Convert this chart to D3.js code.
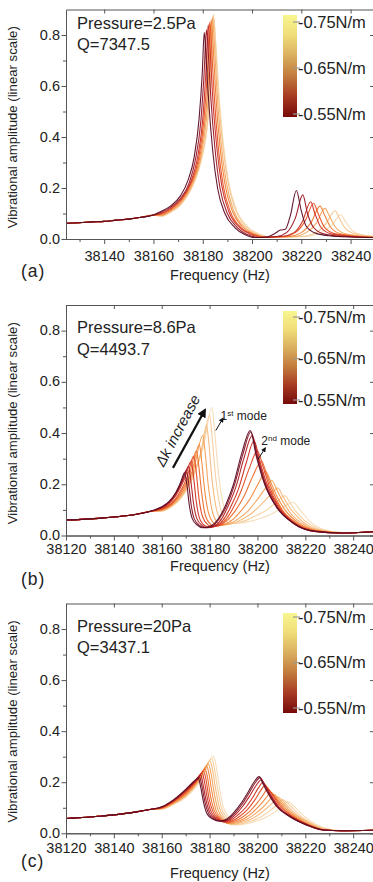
<!DOCTYPE html>
<html><head><meta charset="utf-8">
<script src="https://cdn.jsdelivr.net/npm/d3@7"></script>
<style>
body{margin:0;background:#fff}
svg{display:block}
text{font-family:"Liberation Sans",Arial,sans-serif;fill:#222}
</style>
</head><body>
<svg id="chart" width="373" height="882"></svg>
<script>
// ---------------- DATA ----------------
const pressureLabels = ["Pressure=2.5Pa","Pressure=8.6Pa","Pressure=20Pa"];
const qLabels = ["Q=7347.5","Q=4493.7","Q=3437.1"];
const panelLetters = ["(a)","(b)","(c)"];
const xTicksA = [38140,38160,38180,38200,38220,38240];
const xTicksBC = [38120,38140,38160,38180,38200,38220,38240];
const yTicks = [0,0.2,0.4,0.6,0.8];
const yMinorTicks = [0.1,0.3,0.5,0.7];
const cbarValues = [-0.75,-0.65,-0.55];
const cbarLabels = ["-0.75N/m","-0.65N/m","-0.55N/m"];

// shared low-frequency baselines [frequency Hz, amplitude]
const baseA = [[38124.5,0.062],[38130,0.064],[38135,0.067],[38140,0.069],[38145,0.074],[38150,0.078],[38155,0.085],[38160,0.094]];
const baseB = [[38120,0.061],[38125,0.062],[38130,0.065],[38135,0.068],[38140,0.072],[38145,0.077],[38150,0.084],[38155,0.094]];
const baseC = [[38120,0.058],[38125,0.061],[38130,0.064],[38135,0.068],[38140,0.072],[38145,0.078],[38150,0.085],[38155,0.093]];

// panel (a): curves from dark (-0.55N/m) to light (-0.75N/m)
const curvesA = [
 [[38163,0.108],[38167,0.13],[38171,0.17],[38174,0.23],[38176.5,0.32],[38178.5,0.47],[38179.8,0.65],[38180.6,0.81],[38181.4,0.7],[38182.4,0.54],[38184,0.35],[38186,0.2],[38189,0.1],[38193,0.045],[38197,0.018],[38201,0.006],[38206,0.008],[38209,0.02],[38211.5,0.035],[38213.5,0.038],[38215.5,0.09],[38218,0.19],[38220,0.11],[38222,0.05],[38226,0.022],[38232,0.012],[38240,0.008],[38249.5,0.006]],
 [[38163,0.104],[38167,0.125],[38171,0.16],[38174.5,0.22],[38177,0.31],[38179.2,0.46],[38180.5,0.64],[38181.5,0.82],[38182.3,0.72],[38183.3,0.55],[38185,0.35],[38187,0.2],[38190,0.1],[38194,0.045],[38198,0.018],[38203,0.006],[38210,0.01],[38214,0.025],[38217.5,0.08],[38220.6,0.173],[38222.5,0.1],[38225,0.045],[38229,0.02],[38236,0.01],[38249.5,0.006]],
 [[38163,0.1],[38167,0.12],[38171,0.155],[38175,0.22],[38177.7,0.31],[38180,0.47],[38181.3,0.66],[38182.2,0.84],[38183,0.74],[38184,0.56],[38185.7,0.36],[38187.7,0.21],[38190.7,0.105],[38195,0.045],[38199,0.02],[38204,0.007],[38212,0.01],[38217,0.025],[38220.5,0.07],[38223.8,0.146],[38225.5,0.1],[38228,0.045],[38232,0.02],[38240,0.01],[38249.5,0.006]],
 [[38163,0.098],[38167,0.117],[38171,0.15],[38175.3,0.22],[38178.2,0.31],[38180.5,0.47],[38181.9,0.66],[38182.8,0.85],[38183.6,0.75],[38184.6,0.57],[38186.3,0.36],[38188.3,0.21],[38191.3,0.105],[38195.5,0.045],[38200,0.02],[38205,0.007],[38213,0.01],[38218,0.028],[38221.5,0.07],[38225,0.14],[38226.8,0.1],[38229.5,0.045],[38234,0.02],[38242,0.01],[38249.5,0.006]],
 [[38163,0.095],[38167,0.113],[38171,0.145],[38175.6,0.22],[38178.6,0.31],[38181,0.47],[38182.5,0.66],[38183.4,0.86],[38184.2,0.76],[38185.2,0.58],[38186.9,0.37],[38189,0.215],[38192,0.11],[38196,0.048],[38200.5,0.02],[38206,0.007],[38215,0.01],[38220,0.025],[38224,0.065],[38227.6,0.129],[38229.4,0.095],[38232,0.045],[38236,0.02],[38244,0.01],[38249.5,0.007]],
 [[38163,0.092],[38167,0.11],[38171,0.14],[38176,0.22],[38179,0.31],[38181.5,0.47],[38183,0.66],[38183.9,0.87],[38184.7,0.77],[38185.7,0.59],[38187.4,0.38],[38189.6,0.22],[38192.6,0.11],[38196.6,0.05],[38201,0.02],[38207,0.007],[38217,0.01],[38222,0.025],[38226,0.06],[38229.6,0.12],[38231.4,0.09],[38234,0.045],[38238,0.02],[38246,0.01],[38249.5,0.008]],
 [[38163,0.09],[38167,0.107],[38171,0.135],[38176.3,0.22],[38179.3,0.31],[38182,0.47],[38183.4,0.66],[38184.3,0.88],[38185.1,0.78],[38186.1,0.6],[38187.9,0.39],[38190.2,0.225],[38193.3,0.115],[38197.5,0.05],[38202,0.02],[38208,0.007],[38220,0.01],[38226,0.025],[38230,0.06],[38233.7,0.111],[38235.5,0.08],[38238,0.04],[38242,0.02],[38249.5,0.01]],
 [[38163,0.088],[38167,0.105],[38171,0.133],[38176.5,0.22],[38179.5,0.31],[38182.2,0.47],[38183.6,0.66],[38184.5,0.865],[38185.3,0.77],[38186.4,0.6],[38188.2,0.39],[38190.5,0.225],[38193.7,0.115],[38198,0.05],[38203,0.02],[38209,0.007],[38222,0.01],[38228,0.025],[38232.5,0.055],[38236,0.095],[38237.8,0.07],[38240.5,0.035],[38244,0.018],[38249.5,0.01]]
];

// panel (b)
const curvesB = [
 [[38160,0.112],[38163,0.132],[38166,0.17],[38168,0.21],[38169.5,0.245],[38170.5,0.2],[38171.5,0.12],[38172.8,0.065],[38175,0.04],[38177,0.03],[38180,0.035],[38184,0.07],[38187,0.125],[38190,0.2],[38193.4,0.32],[38197,0.41],[38199.5,0.31],[38203,0.2],[38208,0.11],[38215,0.048],[38224,0.016],[38235,0.01],[38248.7,0.015]],
 [[38160,0.11],[38163,0.13],[38166,0.167],[38168.5,0.215],[38170.3,0.255],[38171.3,0.2],[38172.3,0.12],[38173.6,0.065],[38176,0.038],[38178,0.03],[38181,0.035],[38184,0.065],[38187.3,0.12],[38190.3,0.195],[38193.7,0.31],[38197.3,0.405],[38199.8,0.31],[38203.2,0.2],[38208.2,0.11],[38215,0.048],[38224,0.016],[38235,0.01],[38248.7,0.015]],
 [[38160,0.108],[38163,0.127],[38166,0.162],[38169,0.22],[38171.2,0.27],[38172.2,0.21],[38173.3,0.125],[38174.6,0.068],[38177,0.038],[38179,0.03],[38182,0.036],[38185,0.065],[38188,0.12],[38191,0.19],[38194.3,0.3],[38197.8,0.39],[38200.3,0.3],[38203.5,0.2],[38208.4,0.11],[38215,0.048],[38224,0.016],[38235,0.01],[38248.7,0.015]],
 [[38160,0.106],[38163,0.124],[38166,0.157],[38169.5,0.22],[38172.3,0.29],[38173.3,0.23],[38174.4,0.135],[38175.7,0.07],[38178,0.038],[38180,0.032],[38183,0.038],[38186,0.065],[38189,0.115],[38192,0.18],[38195.2,0.28],[38198.6,0.37],[38201,0.29],[38204,0.2],[38208.8,0.11],[38215,0.05],[38224,0.017],[38235,0.01],[38248.7,0.015]],
 [[38160,0.104],[38164,0.125],[38167,0.16],[38170.5,0.225],[38173.4,0.31],[38174.4,0.25],[38175.5,0.15],[38177,0.075],[38179.5,0.04],[38181,0.034],[38184,0.04],[38187,0.065],[38190,0.11],[38193,0.17],[38196.5,0.26],[38200,0.33],[38202.3,0.27],[38205,0.19],[38209.2,0.11],[38215.5,0.05],[38224,0.017],[38235,0.01],[38248.7,0.015]],
 [[38160,0.102],[38164,0.122],[38167.5,0.16],[38171.5,0.235],[38174.5,0.33],[38175.5,0.27],[38176.7,0.165],[38178.2,0.08],[38180.5,0.043],[38182.2,0.036],[38185,0.042],[38188,0.065],[38191,0.1],[38194.5,0.155],[38198,0.23],[38201.7,0.29],[38203.8,0.24],[38206.3,0.175],[38210,0.105],[38216,0.05],[38224.5,0.018],[38235,0.01],[38248.7,0.015]],
 [[38160,0.1],[38164,0.12],[38168,0.16],[38172.5,0.245],[38175.7,0.355],[38176.7,0.29],[38177.9,0.18],[38179.5,0.09],[38181.8,0.047],[38183.5,0.038],[38186.5,0.044],[38190,0.065],[38193.5,0.1],[38197,0.145],[38200.5,0.205],[38203.5,0.25],[38205.5,0.21],[38208,0.155],[38211.5,0.1],[38217,0.05],[38225,0.018],[38235,0.01],[38248.7,0.015]],
 [[38160,0.098],[38164,0.117],[38168,0.155],[38173,0.245],[38177.2,0.39],[38178.2,0.32],[38179.4,0.2],[38181,0.1],[38183.3,0.05],[38185,0.04],[38188,0.045],[38192,0.065],[38196,0.095],[38199.5,0.135],[38203,0.18],[38206,0.215],[38208,0.18],[38210.5,0.135],[38214,0.085],[38219,0.045],[38226,0.018],[38235,0.01],[38248.7,0.015]],
 [[38160,0.097],[38164,0.115],[38168,0.15],[38173.5,0.245],[38176.5,0.33],[38178.7,0.43],[38179.7,0.36],[38181,0.22],[38182.7,0.11],[38185,0.055],[38186.6,0.043],[38190,0.048],[38194,0.065],[38198,0.09],[38202,0.125],[38205.5,0.16],[38208.5,0.185],[38210.5,0.155],[38213,0.115],[38216.5,0.075],[38221,0.04],[38228,0.017],[38237,0.01],[38248.7,0.015]],
 [[38160,0.096],[38164,0.113],[38168,0.147],[38173.5,0.24],[38177,0.34],[38180,0.47],[38181,0.39],[38182.4,0.24],[38184.2,0.12],[38186.6,0.06],[38188.3,0.046],[38192,0.05],[38196,0.062],[38200,0.08],[38204,0.1],[38208,0.13],[38211.5,0.155],[38213.5,0.13],[38216,0.095],[38219.5,0.06],[38224,0.032],[38231,0.015],[38240,0.01],[38248.7,0.015]],
 [[38160,0.095],[38164,0.111],[38168,0.145],[38173.5,0.235],[38177.5,0.35],[38181,0.5],[38182,0.42],[38183.5,0.26],[38185.5,0.13],[38188,0.065],[38190,0.048],[38194,0.05],[38198,0.058],[38203,0.072],[38208,0.095],[38212,0.117],[38215,0.13],[38217,0.11],[38219.5,0.08],[38222.5,0.05],[38227,0.025],[38234,0.012],[38248.7,0.012]]
];

// panel (c)
const curvesC = [
 [[38160,0.104],[38165,0.132],[38170,0.172],[38173,0.2],[38175.3,0.215],[38176.3,0.18],[38177.5,0.12],[38179,0.075],[38181.5,0.055],[38184,0.048],[38187,0.055],[38190,0.08],[38193,0.115],[38196,0.16],[38198.5,0.2],[38200.7,0.222],[38202.5,0.19],[38204.5,0.155],[38208,0.105],[38213.5,0.065],[38220.5,0.033],[38227.5,0.013],[38235,0.01],[38248.7,0.012]],
 [[38160,0.103],[38165,0.13],[38170,0.17],[38173.3,0.2],[38175.8,0.22],[38176.8,0.185],[38178,0.125],[38179.6,0.078],[38182,0.056],[38184.7,0.047],[38187.5,0.054],[38190.5,0.078],[38193.5,0.113],[38196.5,0.158],[38199,0.197],[38201.1,0.218],[38203,0.188],[38205,0.153],[38208.3,0.105],[38213.8,0.065],[38220.5,0.033],[38227.5,0.013],[38235,0.01],[38248.7,0.012]],
 [[38160,0.102],[38165,0.128],[38170,0.167],[38173.6,0.2],[38176.3,0.228],[38177.3,0.19],[38178.5,0.13],[38180.2,0.08],[38182.6,0.057],[38185.3,0.046],[38188,0.052],[38191,0.075],[38194,0.108],[38197,0.15],[38199.5,0.188],[38201.6,0.21],[38203.4,0.183],[38205.4,0.15],[38208.6,0.104],[38214,0.065],[38220.5,0.033],[38227.5,0.013],[38235,0.01],[38248.7,0.012]],
 [[38160,0.101],[38165,0.127],[38170,0.164],[38174,0.202],[38176.9,0.236],[38177.9,0.2],[38179.1,0.135],[38180.8,0.082],[38183.2,0.058],[38185.9,0.045],[38188.6,0.05],[38191.6,0.07],[38195,0.1],[38198,0.14],[38200.4,0.178],[38202.3,0.2],[38204,0.176],[38206,0.145],[38209,0.103],[38214.3,0.065],[38221,0.033],[38227.5,0.013],[38235,0.01],[38248.7,0.012]],
 [[38160,0.1],[38165,0.125],[38170,0.16],[38174.5,0.205],[38177.5,0.244],[38178.5,0.21],[38179.7,0.14],[38181.4,0.085],[38183.8,0.058],[38186.5,0.043],[38189.3,0.048],[38192.5,0.066],[38196,0.095],[38199,0.132],[38201.4,0.168],[38203.2,0.188],[38205,0.168],[38207,0.14],[38209.8,0.102],[38214.7,0.065],[38221,0.033],[38228,0.013],[38235,0.01],[38248.7,0.012]],
 [[38160,0.099],[38165,0.123],[38170,0.157],[38175,0.208],[38178.1,0.253],[38179.1,0.22],[38180.3,0.15],[38182,0.088],[38184.4,0.058],[38187,0.041],[38190,0.046],[38193.5,0.062],[38197,0.088],[38200,0.12],[38202.5,0.152],[38204.3,0.174],[38206,0.156],[38208,0.132],[38210.7,0.1],[38215.3,0.064],[38221.5,0.033],[38228,0.013],[38235,0.01],[38248.7,0.012]],
 [[38160,0.098],[38165,0.121],[38170,0.153],[38175.3,0.208],[38178.8,0.262],[38179.8,0.23],[38181,0.16],[38182.7,0.09],[38185,0.058],[38187.6,0.039],[38191,0.044],[38194.5,0.058],[38198,0.082],[38201,0.11],[38203.7,0.14],[38205.6,0.162],[38207.3,0.146],[38209.3,0.124],[38212,0.095],[38216.3,0.062],[38222,0.032],[38228.5,0.013],[38235,0.01],[38248.7,0.012]],
 [[38160,0.097],[38165,0.119],[38170,0.15],[38175.6,0.21],[38179.5,0.272],[38180.5,0.24],[38181.7,0.17],[38183.4,0.095],[38185.7,0.058],[38188.2,0.037],[38191.7,0.042],[38195.5,0.055],[38199,0.076],[38202.3,0.102],[38205,0.13],[38207,0.152],[38208.7,0.138],[38210.7,0.118],[38213.3,0.09],[38217.5,0.06],[38223,0.031],[38229,0.013],[38235,0.01],[38248.7,0.012]],
 [[38160,0.096],[38165,0.117],[38170,0.147],[38176,0.212],[38180.2,0.283],[38181.2,0.25],[38182.4,0.18],[38184.1,0.1],[38186.4,0.06],[38189,0.035],[38192.5,0.04],[38196.5,0.052],[38200,0.07],[38203.5,0.095],[38206.4,0.12],[38208.6,0.142],[38210.3,0.13],[38212.3,0.11],[38214.8,0.085],[38218.7,0.057],[38224,0.03],[38230,0.013],[38236,0.01],[38248.7,0.012]],
 [[38160,0.095],[38165,0.115],[38170,0.144],[38176.5,0.215],[38180.9,0.293],[38181.9,0.26],[38183.1,0.19],[38184.8,0.105],[38187.2,0.062],[38190,0.034],[38193.5,0.038],[38197.5,0.048],[38201.5,0.064],[38205,0.087],[38208,0.11],[38210.5,0.132],[38212.2,0.122],[38214.2,0.103],[38216.6,0.08],[38220,0.054],[38225,0.029],[38231,0.013],[38237,0.01],[38248.7,0.012]],
 [[38160,0.094],[38165,0.113],[38170,0.141],[38177,0.218],[38181.6,0.303],[38182.6,0.27],[38183.8,0.2],[38185.5,0.11],[38188,0.064],[38191,0.033],[38194.5,0.036],[38198.5,0.045],[38203,0.06],[38207,0.082],[38210,0.104],[38212.5,0.124],[38214.2,0.115],[38216.2,0.097],[38218.5,0.076],[38221.5,0.052],[38226,0.028],[38232,0.013],[38238,0.01],[38248.7,0.012]]
];

// annotations for panel (b): [freq, amplitude]
const bigArrow = [[38164.7,0.264],[38178.1,0.491]];
const dkLabelPos = [38166.6,0.41];
const mode1Arrow = [[38182.6,0.41],[38185.6,0.458]];
const mode1LabelPos = [38184.6,0.452];
const mode2Arrow = [[38200.2,0.297],[38203.3,0.342]];
const mode2LabelPos = [38201.6,0.354];

// ---------------- STYLE / LAYOUT ----------------
const curveStops = ["#5c0d24","#9c1526","#cf2a22","#e9501f","#f08232","#f3a65e","#f5c68e","#f6dbb6"];
const curveColor = d3.interpolateRgbBasis(curveStops);
const cbarStops = ["#760a0a","#a63a22","#c27a3c","#d9ae5e","#f0dc78","#f8f690"];
const axisColor = "#555";
const FONT = '"Liberation Sans", Arial, sans-serif';

const panels = [
 {curves:curvesA, base:baseA, xd:[38124.5,38249.5], xt:xTicksA, top:9.5, bot:239, tickPad:6.5, titleY:280, letterY:277, pY:29, qY:50, cb:[15,117], cbl:[22,114]},
 {curves:curvesB, base:baseB, xd:[38120,38248.7], xt:xTicksBC, top:305, bot:535.5, tickPad:3, titleY:571, letterY:585, pY:333, qY:355, cb:[311,404], cbl:[317,400]},
 {curves:curvesC, base:baseC, xd:[38120,38248.7], xt:xTicksBC, top:603.5, bot:833.3, tickPad:4, titleY:878, letterY:867, pY:631.5, qY:653, cb:[613,713], cbl:[617,708]}
];

const svg = d3.select("#chart");
const defs = svg.append("defs");
const grad = defs.append("linearGradient").attr("id","cbgrad").attr("x1",0).attr("y1",1).attr("x2",0).attr("y2",0);
cbarStops.forEach((c,i)=>grad.append("stop").attr("offset",i/(cbarStops.length-1)).attr("stop-color",c));
defs.append("marker").attr("id","ahBig").attr("viewBox","0 0 10 10").attr("refX",8).attr("refY",5)
  .attr("markerWidth",4.2).attr("markerHeight",4.2).attr("orient","auto")
  .append("path").attr("d","M0,0L10,5L0,10z").attr("fill","#111");
defs.append("marker").attr("id","ahSmall").attr("viewBox","0 0 10 10").attr("refX",8).attr("refY",5)
  .attr("markerWidth",5).attr("markerHeight",5).attr("orient","auto")
  .append("path").attr("d","M0,0L10,5L0,10z").attr("fill","#111");

const X0 = 66, X1 = 374;

panels.forEach((p, pi) => {
  const g = svg.append("g");
  const x = d3.scaleLinear().domain(p.xd).range([X0, X1]);
  const y = d3.scaleLinear().domain([0, 0.9]).range([p.bot, p.top]);
  const cid = "clip" + pi;
  defs.append("clipPath").attr("id", cid).append("rect")
    .attr("x", X0).attr("y", p.top).attr("width", X1 - X0).attr("height", p.bot - p.top);

  const line = d3.line().x(d => x(d[0])).y(d => y(d[1])).curve(d3.curveMonotoneX);
  const n = p.curves.length;
  const cg = g.append("g").attr("clip-path", `url(#${cid})`);
  for (let i = n - 1; i >= 0; i--) {
    cg.append("path").attr("d", line(p.base.concat(p.curves[i])))
      .attr("fill", "none").attr("stroke", curveColor(i / (n - 1)))
      .attr("stroke-width", 1.1).attr("stroke-linejoin", "round").attr("opacity", 0.95);
  }

  const xMinor = d3.range(Math.ceil(p.xd[0] / 10) * 10, p.xd[1], 10).filter(v => !p.xt.includes(v));
  const styleAxis = sel => {
    sel.selectAll("path,line").attr("stroke", axisColor).attr("stroke-width", 1);
    sel.selectAll("text").attr("font-family", FONT).attr("fill", "#222");
  };
  g.append("g").attr("transform", `translate(0,${p.bot})`)
    .call(d3.axisBottom(x).tickValues(xMinor).tickSize(3).tickSizeOuter(0).tickFormat(""))
    .call(styleAxis);
  g.append("g").attr("transform", `translate(0,${p.bot})`)
    .call(d3.axisBottom(x).tickValues(p.xt).tickSize(5).tickSizeOuter(0).tickPadding(p.tickPad).tickFormat(d3.format("d")))
    .call(styleAxis).selectAll("text").attr("font-size", 14.5);
  g.append("g").attr("transform", `translate(0,${p.top})`)
    .call(d3.axisTop(x).tickValues(p.xt).tickSize(-4).tickSizeOuter(0).tickFormat(""))
    .call(styleAxis);
  g.append("g").attr("transform", `translate(${X0},0)`)
    .call(d3.axisLeft(y).tickValues(yMinorTicks).tickSize(3).tickSizeOuter(0).tickFormat(""))
    .call(styleAxis);
  g.append("g").attr("transform", `translate(${X0},0)`)
    .call(d3.axisLeft(y).tickValues(yTicks).tickSize(4.5).tickSizeOuter(0).tickPadding(1.5).tickFormat(d3.format(".1f")))
    .call(styleAxis).selectAll("text").attr("font-size", 14.5).attr("dy", "0.28em");
  g.append("g").attr("transform", `translate(${X1 + 1},0)`)
    .call(d3.axisRight(y).tickValues(yTicks).tickSize(-5).tickSizeOuter(0).tickFormat(""))
    .call(styleAxis);

  g.append("text").attr("x", 220).attr("y", p.titleY).attr("text-anchor", "middle")
    .attr("font-size", 14.5).text("Frequency (Hz)");
  g.append("text").attr("transform", `translate(17,${(p.top + p.bot) / 2 + 3}) rotate(-90)`)
    .attr("text-anchor", "middle").attr("font-size", 13.2).text("Vibrational amplitude (linear scale)");
  g.append("text").attr("x", 21).attr("y", p.letterY).attr("font-size", 17.5)
    .attr("letter-spacing", 1).text(panelLetters[pi]);
  g.append("text").attr("x", 77).attr("y", p.pY).attr("font-size", 16.5).text(pressureLabels[pi]);
  g.append("text").attr("x", 77).attr("y", p.qY).attr("font-size", 16.5).text(qLabels[pi]);

  const cbX = 283, cbW = 14;
  g.append("rect").attr("x", cbX).attr("y", p.cb[0]).attr("width", cbW).attr("height", p.cb[1] - p.cb[0])
    .attr("fill", "url(#cbgrad)");
  const cy = d3.scaleLinear().domain([-0.75, -0.55]).range(p.cbl);
  cbarValues.forEach((v, i) => {
    g.append("line").attr("x1", cbX + cbW - 4).attr("x2", cbX + cbW + 3)
      .attr("y1", cy(v)).attr("y2", cy(v)).attr("stroke", "#999").attr("stroke-width", 1.2);
    g.append("text").attr("x", cbX + cbW + 1).attr("y", cy(v)).attr("dy", "0.36em")
      .attr("font-size", 16.5).text(cbarLabels[i]);
  });

  if (pi === 1) {
    g.append("line").attr("x1", x(bigArrow[0][0])).attr("y1", y(bigArrow[0][1]))
      .attr("x2", x(bigArrow[1][0])).attr("y2", y(bigArrow[1][1]))
      .attr("stroke", "#111").attr("stroke-width", 2.2).attr("marker-end", "url(#ahBig)");
    g.append("text").attr("transform", `translate(${x(dkLabelPos[0])},${y(dkLabelPos[1])}) rotate(-62)`)
      .attr("text-anchor", "middle").attr("dy", "0.35em").attr("font-size", 15).attr("font-style", "italic")
      .text("Δk increase");
    g.append("line").attr("x1", x(mode1Arrow[0][0])).attr("y1", y(mode1Arrow[0][1]))
      .attr("x2", x(mode1Arrow[1][0])).attr("y2", y(mode1Arrow[1][1]))
      .attr("stroke", "#111").attr("stroke-width", 1).attr("marker-end", "url(#ahSmall)");
    g.append("line").attr("x1", x(mode2Arrow[0][0])).attr("y1", y(mode2Arrow[0][1]))
      .attr("x2", x(mode2Arrow[1][0])).attr("y2", y(mode2Arrow[1][1]))
      .attr("stroke", "#111").attr("stroke-width", 1).attr("marker-end", "url(#ahSmall)");
    const t1 = g.append("text").attr("x", x(mode1LabelPos[0])).attr("y", y(mode1LabelPos[1])).attr("font-size", 12);
    t1.append("tspan").text("1");
    t1.append("tspan").attr("font-size", 8).attr("dy", -4).text("st");
    t1.append("tspan").attr("dy", 4).text(" mode");
    const t2 = g.append("text").attr("x", x(mode2LabelPos[0])).attr("y", y(mode2LabelPos[1])).attr("font-size", 12);
    t2.append("tspan").text("2");
    t2.append("tspan").attr("font-size", 8).attr("dy", -4).text("nd");
    t2.append("tspan").attr("dy", 4).text(" mode");
  }
});
</script>
</body></html>
